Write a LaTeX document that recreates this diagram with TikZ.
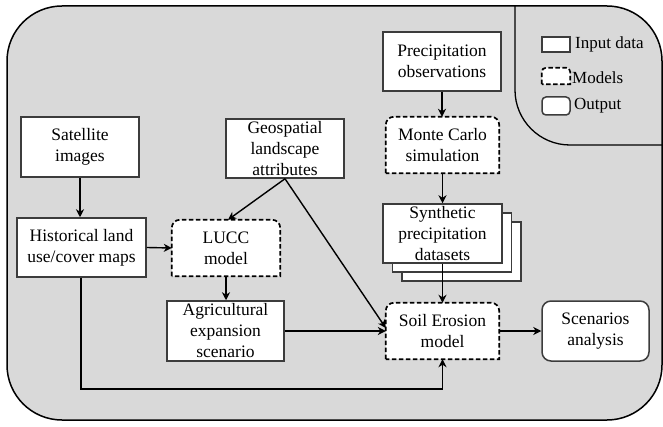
\documentclass[tikz,border=0pt]{standalone}
\usepackage{fontspec}
\setmainfont{Liberation Serif}
\newfontfamily\tnr{Liberation Serif}
\usetikzlibrary{arrows.meta}
\definecolor{bgray}{RGB}{217,217,217}
\definecolor{bd}{RGB}{60,60,60}
\pgfdeclarelayer{back}
\pgfdeclarelayer{mid}
\pgfsetlayers{back,mid,main}
\tikzset{
  base/.style={align=center, inner sep=0pt, font=\tnr\fontsize{17.5}{21}\selectfont},
  inbox/.style={base, draw=bd, line width=1.5pt, fill=white},
  modbox/.style={base},
  outbox/.style={base, draw=bd, line width=1.5pt, fill=white, rounded corners=9pt},
  modline/.style={draw=black, fill=white, line width=1.7pt, dash pattern=on 4.5pt off 2.5pt},
  arr/.style={-{Stealth[length=8pt,width=8pt,inset=2.5pt]}, line width=1.4pt, black},
  legtext/.style={anchor=west, inner sep=0pt, font=\tnr\fontsize{17}{19}\selectfont},
}
\newcommand{\modelshape}[2][8pt]{%
  \begin{pgfonlayer}{mid}
  \draw[modline] (#2.south west) -- ([yshift=-#1]#2.north west)
    arc[start angle=180,end angle=90,radius=#1] -- ([xshift=-#1]#2.north east)
    arc[start angle=90,end angle=0,radius=#1] -- (#2.south east) -- cycle;
  \end{pgfonlayer}}
\begin{document}
\begin{tikzpicture}[x=1pt,y=-1pt]
\useasboundingbox (0,0) rectangle (663,427);
\begin{pgfonlayer}{back}
\draw[fill=bgray, line width=1.5pt, rounded corners=55pt] (7,6) rectangle (662,420);
\end{pgfonlayer}
\draw[line width=1.3pt, rounded corners=55pt] (515,6) -- (515,145) -- (662,145);

% legend
\node[inbox, minimum width=28pt, minimum height=15pt] (lin) at (556,44.5) {};
\node[modbox, minimum width=28pt, minimum height=16pt] (lmod) at (556,76) {};
\modelshape[4pt]{lmod}
\node[outbox, rounded corners=4pt, minimum width=28pt, minimum height=18pt] (lout) at (556,106) {};
\node[legtext] (tin) at (575,44) {Input data};
\node[legtext] (tmod) at (572,78) {Models};
\node[legtext] (tout) at (574,106) {Output};

% nodes
\node[inbox, minimum width=118pt, minimum height=59pt] (precip) at (442,61.5) {Precipitation\\observations};
\node[modbox, minimum width=113pt, minimum height=56pt] (mc) at (442.5,145) {Monte Carlo\\simulation};
\modelshape{mc}
\node[inbox, minimum width=118pt, minimum height=60pt] (sat) at (80,147) {Satellite\\images};
\node[inbox, minimum width=118pt, minimum height=59pt] (geo) at (285,148.5) {Geospatial\\landscape\\attributes};
\node[inbox, minimum width=119pt, minimum height=59pt] (synthb) at (461.5,251.5) {};
\node[inbox, minimum width=119pt, minimum height=59pt] (syntha) at (452,242.5) {};
\node[inbox, minimum width=119pt, minimum height=59pt] (synth) at (442.5,233.5) {Synthetic\\precipitation\\datasets};
\node[inbox, minimum width=129pt, minimum height=59pt] (hist) at (81.5,247.5) {Historical land\\use/cover maps};
\node[modbox, minimum width=108pt, minimum height=56pt] (lucc) at (226,248) {LUCC\\model};
\modelshape{lucc}
\node[inbox, minimum width=117pt, minimum height=60pt] (agri) at (225.5,331) {Agricultural\\expansion\\scenario};
\node[modbox, minimum width=113pt, minimum height=56pt] (soil) at (442.5,331) {Soil Erosion\\model};
\modelshape{soil}
\node[outbox, minimum width=107pt, minimum height=60pt] (scen) at (595.5,331) {Scenarios\\analysis};

\coordinate (low) at (81,389);

% connectors
\draw[arr] (sat.south) -- (sat.south |- hist.north);
\draw[arr] (hist.east) -- (lucc.west);
\draw[arr] (geo.south) -- ([xshift=2pt]lucc.north);
\draw[arr] (geo.south) -- ([yshift=3pt]soil.west);
\draw[arr] (agri.east) -- (soil.west);
\draw[arr] (lucc.south) -- (lucc.south |- agri.north);
\draw[arr] (precip.south) -- (precip.south |- mc.north);
\draw[arr] (mc.south) -- (mc.south |- synth.north);
\draw[arr] (synth.south) -- (synth.south |- soil.north);
\draw[arr] (soil.east) -- (soil.east -| scen.west);
\draw[arr] (hist.south -| low) -- (low) -| (soil.south);
\end{tikzpicture}
\end{document}
